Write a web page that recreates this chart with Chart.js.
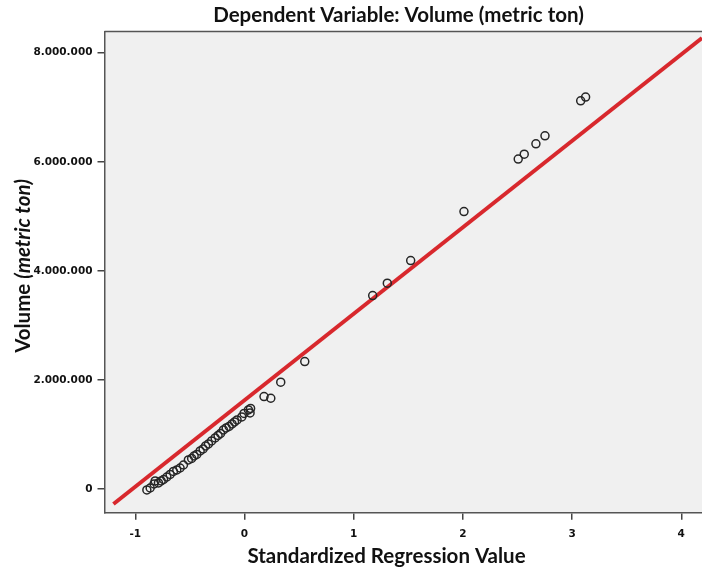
<!DOCTYPE html>
<html><head><meta charset="utf-8">
<script src="https://cdn.jsdelivr.net/npm/chart.js@4"></script>
<style>html,body{margin:0;padding:0;background:#fff}#wrap{width:702px;height:572px;position:relative}</style>
</head><body><div id="wrap"><canvas id="c" width="702" height="572"></canvas></div>
<script>
// Standardized regression value (x) and observed volume in metric tons (y)
const regValue = [
  -0.894, -0.864, -0.828, -0.818, -0.788, -0.763, -0.741, -0.711, -0.681, -0.651,
  -0.620, -0.590, -0.559, -0.514, -0.484, -0.461, -0.437, -0.406, -0.379, -0.356,
  -0.330, -0.301, -0.269, -0.242, -0.219, -0.193, -0.168, -0.141, -0.114, -0.091,
  -0.068, -0.025, -0.004, 0.036, 0.056, 0.051,
  0.179, 0.241, 0.332, 0.552,
  1.174, 1.308, 1.522, 2.010,
  2.507, 2.562, 2.669, 2.752, 3.079, 3.124
];
const volume = [
  -18000, 18000, 92000, 147000, 110000, 147000, 174000, 220000, 266000, 321000,
  349000, 385000, 440000, 532000, 560000, 606000, 633000, 697000, 734000, 789000,
  826000, 881000, 936000, 982000, 1018000, 1083000, 1119000, 1147000, 1193000, 1229000,
  1266000, 1321000, 1385000, 1450000, 1477000, 1394000,
  1694000, 1664000, 1958000, 2336000,
  3547000, 3774000, 4189000, 5088000,
  6050000, 6141000, 6330000, 6477000, 7119000, 7187000
];
// Fit line end points
const fitX = [-1.20, 4.19];
const fitY = [-275000, 8270000];
// Axis ticks
const xTicks = [-1, 0, 1, 2, 3, 4];
const yTicks = [0, 2000000, 4000000, 6000000, 8000000];
// Texts
const chartTitle = 'Dependent Variable: Volume (metric ton)';
const xTitle = 'Standardized Regression Value';
const yTitleMain = 'Volume ';
const yTitleItalic = '(metric ton)';

function fmt(v) { return String(v).replace(/\B(?=(\d{3})+(?!\d))/g, '.'); }

const decor = {
  id: 'decor',
  beforeDraw(chart) {
    const { ctx, chartArea: a } = chart;
    ctx.save();
    ctx.fillStyle = '#f0f0f0';
    ctx.fillRect(a.left, a.top, a.right - a.left, a.bottom - a.top);
    ctx.restore();
  },
  afterDraw(chart) {
    const { ctx, chartArea: a } = chart;
    ctx.save();
    ctx.strokeStyle = '#555';
    ctx.lineWidth = 1.5;
    ctx.beginPath();
    ctx.moveTo(a.left, a.top);
    ctx.lineTo(a.right, a.top);
    ctx.stroke();
    ctx.fillStyle = '#111';
    ctx.textBaseline = 'middle';
    ctx.textAlign = 'center';
    ctx.font = 'bold 20.5px Lato';
    ctx.fillText(chartTitle, 398.5, 15);
    ctx.font = 'bold 20.5px Lato';
    ctx.fillText(xTitle, 386.5, 556);
    // y title with italic part
    ctx.translate(23, 266);
    ctx.rotate(-Math.PI / 2);
    ctx.font = 'bold 20.5px Lato';
    const w1 = ctx.measureText(yTitleMain).width;
    ctx.font = 'italic bold 20.5px Lato';
    const w2 = ctx.measureText(yTitleItalic).width;
    const start = -(w1 + w2) / 2;
    ctx.textAlign = 'left';
    ctx.font = 'bold 20.5px Lato';
    ctx.fillText(yTitleMain, start, 0);
    ctx.font = 'italic bold 20.5px Lato';
    ctx.fillText(yTitleItalic, start + w1, 0);
    ctx.restore();
  }
};

new Chart(document.getElementById('c'), {
  type: 'scatter',
  data: {
    datasets: [
      {
        type: 'line',
        label: 'Fit',
        data: fitX.map((x, i) => ({ x, y: fitY[i] })),
        borderColor: '#d8282d',
        borderWidth: 4,
        pointRadius: 0,
        fill: false,
        order: 2
      },
      {
        label: 'Volume',
        data: regValue.map((x, i) => ({ x, y: volume[i] })),
        pointStyle: 'circle',
        pointRadius: 4,
        pointBorderWidth: 1.5,
        pointBorderColor: '#262626',
        pointBackgroundColor: 'rgba(0,0,0,0)',
        order: 1
      }
    ]
  },
  options: {
    responsive: false,
    devicePixelRatio: 1,
    animation: false,
    layout: { autoPadding: false, padding: { top: 31.5, left: 0, right: 0, bottom: 0 } },
    plugins: { legend: { display: false }, tooltip: { enabled: false }, title: { display: false } },
    scales: {
      x: {
        type: 'linear',
        min: -1.282,
        max: 4.19,
        afterBuildTicks: (s) => { s.ticks = xTicks.map(v => ({ value: v })); },
        afterFit: (s) => { s.height = 59.3; s.paddingRight = 0; s.paddingLeft = 0; },
        grid: { drawOnChartArea: false, drawTicks: true, tickLength: 7, color: '#444', lineWidth: 1.5 },
        border: { display: true, color: '#555', width: 1.5 },
        ticks: { color: '#111', font: { family: 'DejaVu Sans', weight: 'bold', size: 10.5 }, padding: 8, maxRotation: 0, callback: (v) => String(v) }
      },
      y: {
        type: 'linear',
        min: -435000,
        max: 8390000,
        afterBuildTicks: (s) => { s.ticks = yTicks.map(v => ({ value: v })); },
        afterFit: (s) => { s.width = 104.5; s.paddingTop = 0; s.paddingBottom = 0; },
        grid: { drawOnChartArea: false, drawTicks: true, tickLength: 7, color: '#444', lineWidth: 1.5 },
        border: { display: true, color: '#555', width: 1.5 },
        ticks: { color: '#111', font: { family: 'DejaVu Sans', weight: 'bold', size: 10.5 }, padding: 5, callback: (v) => fmt(v) }
      }
    }
  },
  plugins: [decor]
});
</script>
</body></html>
